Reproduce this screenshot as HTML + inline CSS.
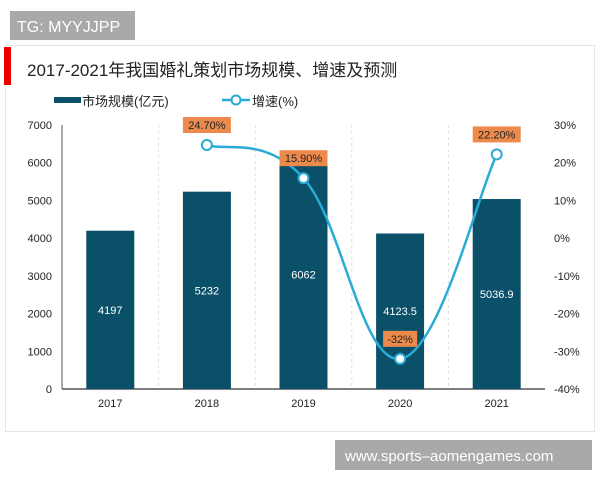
<!DOCTYPE html>
<html><head><meta charset="utf-8"><style>
body{margin:0;width:600px;height:480px;background:#fff;overflow:hidden;font-family:"Liberation Sans","Noto Sans CJK SC",sans-serif;}
</style></head><body>
<svg width="600" height="480">
<rect x="10" y="11" width="125" height="29" fill="#a9a9a9"/>
<text x="17" y="32" font-size="16" fill="#fff">TG: MYYJJPP</text>
<rect x="5.5" y="45.5" width="589" height="386" fill="#fff" stroke="#e4e4e4"/>
<rect x="4" y="47" width="7" height="38" fill="#e00"/>
<text x="27" y="76" font-size="17" fill="#222">2017-2021年我国婚礼策划市场规模、增速及预测</text>
<rect x="54" y="97" width="27" height="6" fill="#0b5069"/>
<text x="82" y="106" font-size="13" fill="#222">市场规模(亿元)</text>
<line x1="222" y1="100" x2="250" y2="100" stroke="#29abd6" stroke-width="2.5"/>
<circle cx="236" cy="100" r="4.5" fill="#fff" stroke="#29abd6" stroke-width="2"/>
<text x="252" y="106" font-size="13" fill="#222">增速(%)</text>
<g id="plot"></g>
<rect x="335" y="440" width="257" height="30" fill="#a9a9a9"/>
<text x="345" y="461" font-size="15" fill="#fff">www.sports–aomengames.com</text>
</svg>
<script>
const categories=["2017","2018","2019","2020","2021"];
const sizeValues=[4197,5232,6062,4123.5,5036.9];
const sizeLabels=["4197","5232","6062","4123.5","5036.9"];
const growthValues=[null,24.7,15.9,-32,22.2];
const growthLabels=["","24.70%","15.90%","-32%","22.20%"];
const leftTicks=[0,1000,2000,3000,4000,5000,6000,7000];
const rightTicks=[-40,-30,-20,-10,0,10,20,30];
const rightTickLabels=["-40%","-30%","-20%","-10%","0%","10%","20%","30%"];
const NS="http://www.w3.org/2000/svg";
const g=document.getElementById('plot');
const X0=62,X1=545,Y0=389,Y1=125;
const band=(X1-X0)/categories.length;
const xc=i=>X0+band*(i+0.5);
const yL=v=>Y0-(v/7000)*(Y0-Y1);
const yR=v=>Y0-((v+40)/70)*(Y0-Y1);
function mk(t,a,txt){const e=document.createElementNS(NS,t);for(const k in a)e.setAttribute(k,a[k]);if(txt!==undefined)e.textContent=txt;g.appendChild(e);return e;}
for(let i=1;i<categories.length;i++){const e=mk('line',{x1:X0+band*i,x2:X0+band*i,y1:Y1,y2:Y0,stroke:'#ddd','stroke-dasharray':'3,3'});

}
leftTicks.forEach(t=>{const e=mk('text',{x:52,y:yL(t)+4,'font-size':11,'text-anchor':'end',fill:'#222'},String(t));

});
rightTicks.forEach((t,i)=>{const e=mk('text',{x:554,y:yR(t)+4,'font-size':11,fill:'#222'},rightTickLabels[i]);

});
let ax=mk('line',{x1:X0,x2:X0,y1:Y1,y2:Y0,stroke:'#555'});


let bx=mk('line',{x1:X0,x2:X1,y1:Y0,y2:Y0,stroke:'#555','stroke-width':1.5});


categories.forEach((c,i)=>{
 const bw=48,top=yL(sizeValues[i]);
 const r=mk('rect',{x:xc(i)-bw/2,y:top,width:bw,height:Y0-top,fill:'#0b5069'});
 
 
 const t=mk('text',{x:xc(i),y:(top+Y0)/2+4,'font-size':11,'text-anchor':'middle',fill:'#fff'},sizeLabels[i]);
 
 
 const xl=mk('text',{x:xc(i),y:407,'font-size':11,'text-anchor':'middle',fill:'#222'},c);
 
 
});
const pts=[];growthValues.forEach((v,i)=>{if(v!==null)pts.push([xc(i),yR(v),i]);});
let d='M'+pts[0][0]+','+pts[0][1];
for(let k=0;k<pts.length-1;k++){const p0=pts[k-1]||pts[k],p1=pts[k],p2=pts[k+1],p3=pts[k+2]||p2;const s=0.2;
d+=` C${p1[0]+(p2[0]-p0[0])*s},${p1[1]+(p2[1]-p0[1])*s} ${p2[0]-(p3[0]-p1[0])*s},${p2[1]-(p3[1]-p1[1])*s} ${p2[0]},${p2[1]}`;}
const ln=mk('path',{d:d,fill:'none',stroke:'#29abd6','stroke-width':2.5});


pts.forEach(p=>{
 const c=mk('circle',{cx:p[0],cy:p[1],r:5,fill:'#fff',stroke:'#29abd6','stroke-width':2});
 
 
 const lab=growthLabels[p[2]];const w=lab.length*7+6;
 const b=mk('rect',{x:p[0]-w/2,y:p[1]-28,width:w,height:16,fill:'#ec8a4c'});
 
 
 const t=mk('text',{x:p[0],y:p[1]-16,'font-size':11,'text-anchor':'middle',fill:'#222'},lab);
 
 
});
</script>
</body></html>
